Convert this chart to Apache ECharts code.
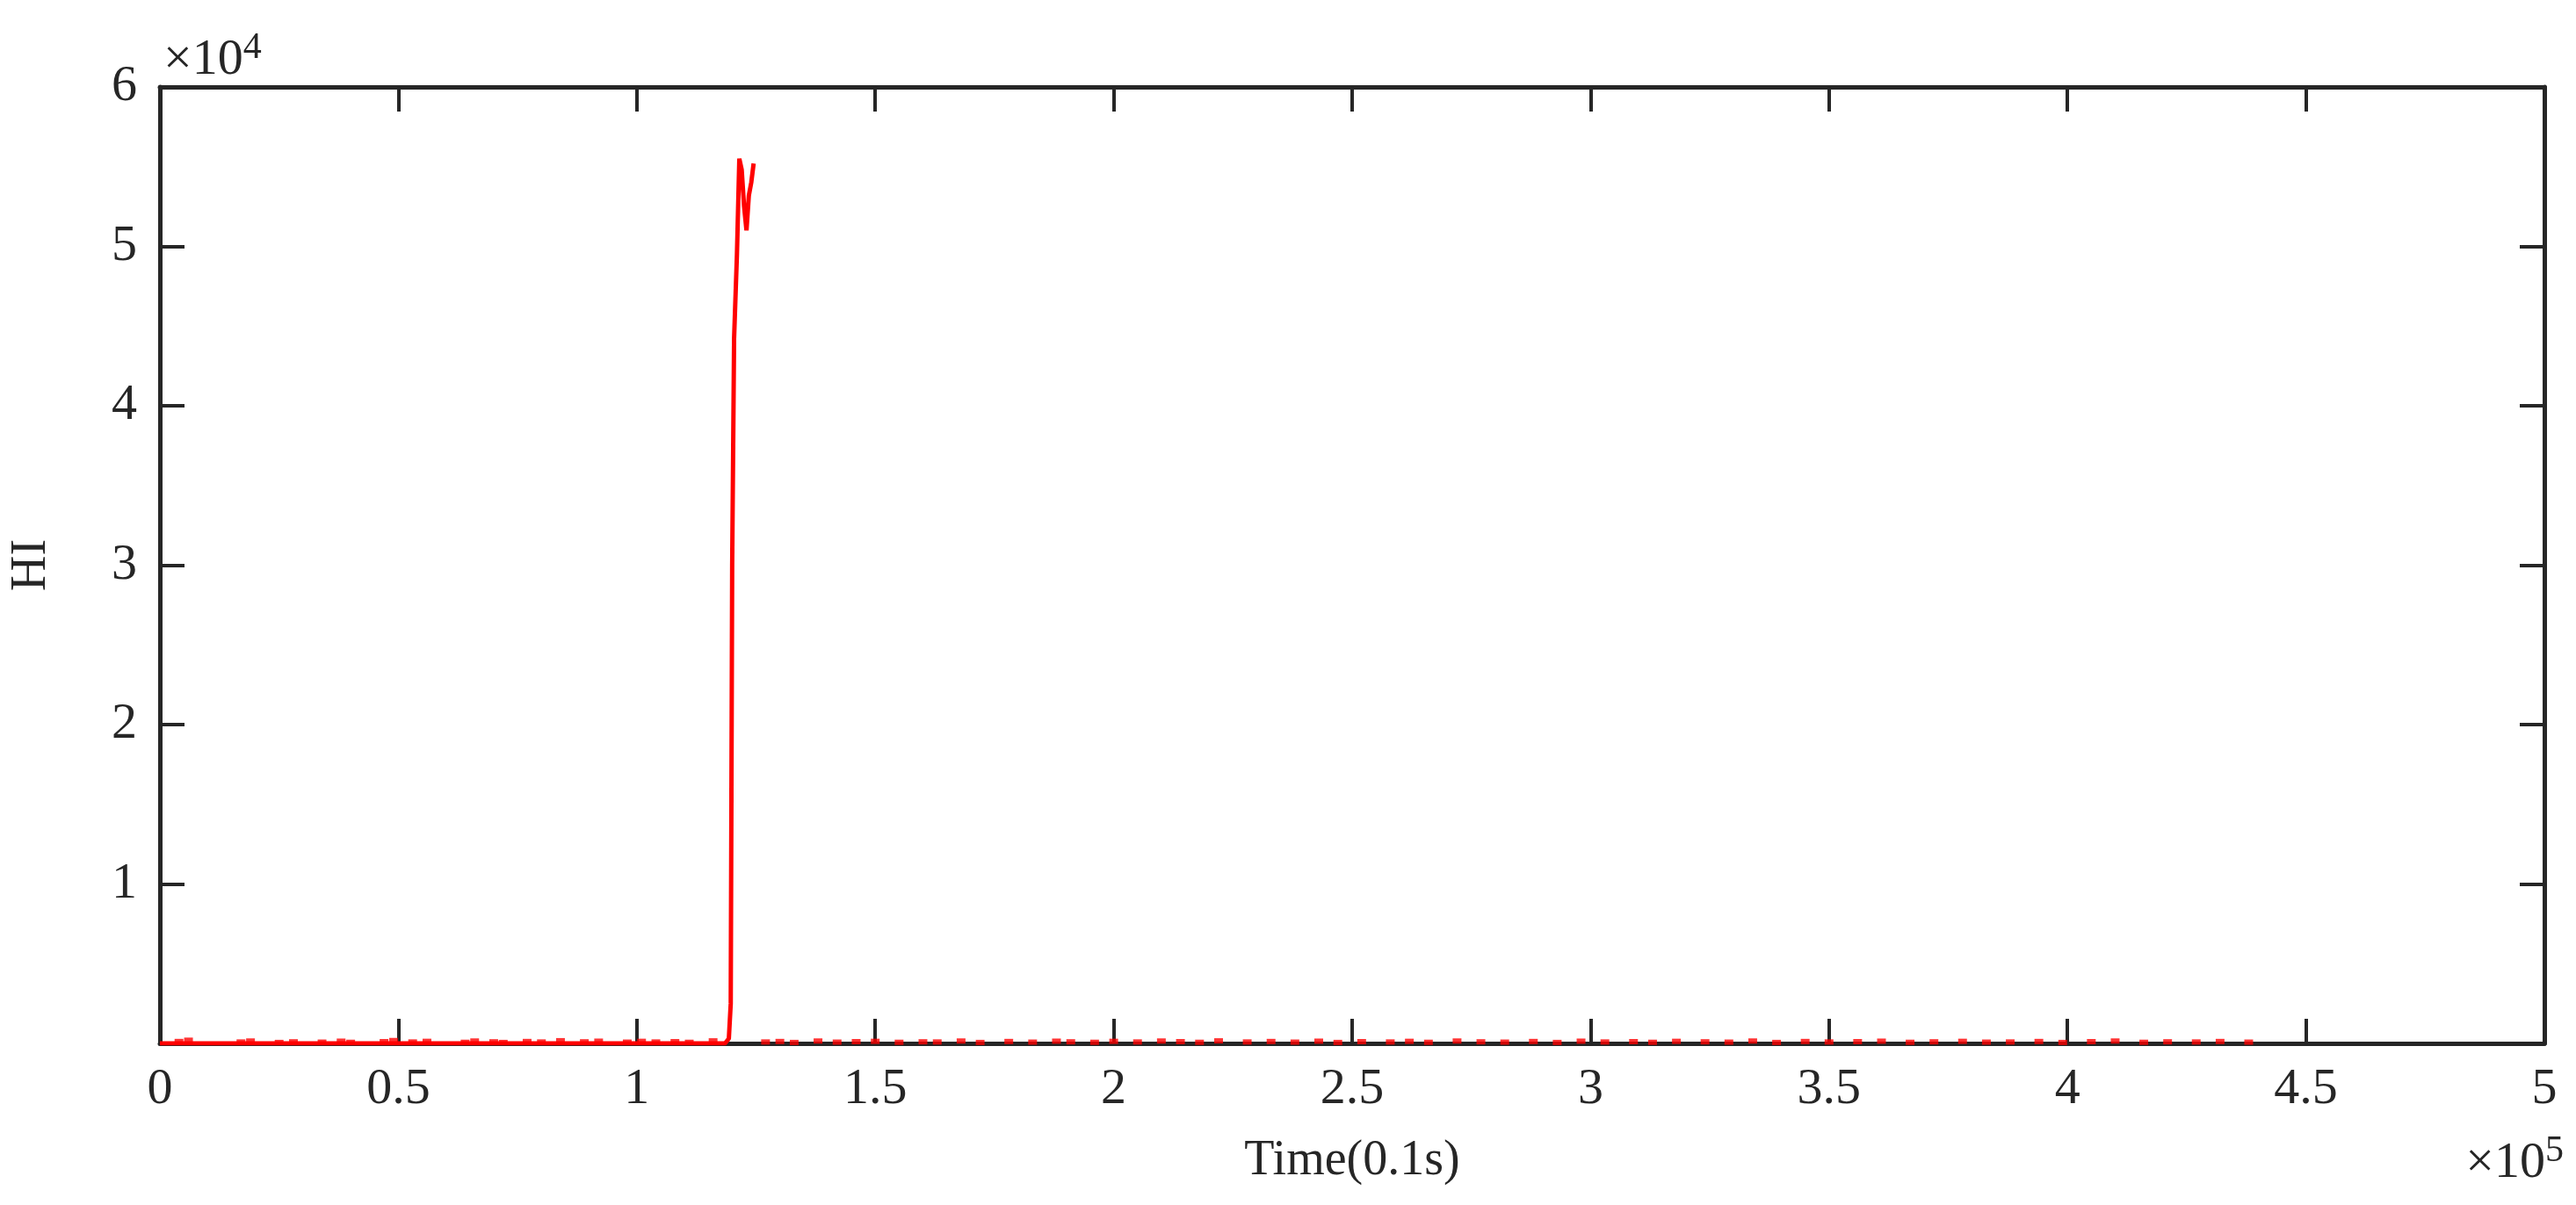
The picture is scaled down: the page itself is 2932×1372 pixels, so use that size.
<!DOCTYPE html>
<html>
<head>
<meta charset="utf-8">
<script src="https://cdn.jsdelivr.net/npm/echarts@6/dist/echarts.min.js"></script>
<style>html,body{margin:0;padding:0;background:#fff}#main{width:2932px;height:1372px}</style>
</head>
<body>
<div id="main"></div>
<script>
// HI curve around the failure (x in 0.1s, y HI)
var spikeX = [0, 20000, 50000, 80000, 100000, 118500, 119300, 119700, 120000, 120400, 121000, 121500, 122000, 122500, 123000, 123500, 124000, 124500];
var spikeY = [0, 0, 0, 0, 0, 0, 300, 2500, 30000, 44200, 49500, 55500, 54800, 52500, 51000, 53200, 54000, 55200];
// small red marks along the baseline
var noiseX = [4000, 6000, 17000, 19000, 25000, 28000, 34000, 38000, 40000, 47000, 49000, 53000, 56000, 64000, 66000, 70000, 72000, 77000, 80000, 84000, 89000, 92000, 98000, 101000, 104000, 108000, 111000, 116000, 127000, 130000, 133000, 138000, 142000, 146000, 150000, 155000, 160000, 163000, 168000, 172000, 178000, 183000, 188000, 191000, 196000, 200000, 205000, 210000, 214000, 218000, 222000, 228000, 233000, 238000, 243000, 247000, 252000, 258000, 262000, 266000, 272000, 277000, 282000, 288000, 293000, 298000, 303000, 309000, 313000, 318000, 324000, 329000, 334000, 339000, 345000, 350000, 356000, 361000, 367000, 372000, 378000, 383000, 388000, 394000, 399000, 405000, 410000, 416000, 421000, 427000, 432000, 438000];
var noiseY = [120, 200, 90, 150, 60, 100, 80, 140, 70, 110, 180, 90, 130, 70, 150, 100, 60, 120, 90, 170, 100, 140, 80, 130, 90, 110, 70, 160, 90, 120, 60, 150, 80, 110, 130, 70, 100, 90, 150, 60, 120, 80, 140, 100, 70, 130, 90, 150, 110, 70, 160, 90, 120, 80, 140, 60, 110, 90, 130, 70, 150, 100, 80, 120, 60, 140, 90, 110, 70, 130, 100, 80, 150, 60, 120, 90, 110, 140, 70, 100, 130, 80, 90, 120, 60, 110, 150, 70, 100, 90, 120, 80];
var xTicks = [0, 0.5, 1, 1.5, 2, 2.5, 3, 3.5, 4, 4.5, 5];
var yTicks = [1, 2, 3, 4, 5, 6];

var line = [];
for (var i = 0; i < spikeX.length; i++) line.push([spikeX[i], spikeY[i]]);
var dots = [];
for (var j = 0; j < noiseX.length; j++) dots.push([noiseX[j], noiseY[j]]);

var font = 'Liberation Serif';
var axisCol = '#262626';
var tick = {show: true, inside: true, length: 28, lineStyle: {color: axisCol, width: 4}};
var aLine = {show: true, onZero: false, lineStyle: {color: axisCol, width: 5}};
var myChart = echarts.init(document.getElementById('main'));
var option = {
    animation: false,
    backgroundColor: '#fff',
    grid: {left: 182, right: 36, top: 99, bottom: 184, containLabel: false},
    xAxis: [
        {
            type: 'value', min: 0, max: 500000, interval: 50000, position: 'bottom',
            axisLine: aLine, axisTick: tick, splitLine: {show: false},
            axisLabel: {fontFamily: font, fontSize: 58, color: axisCol, margin: 24,
                formatter: function (v) { return String(xTicks[Math.round(v / 50000)]); }},
            name: 'Time(0.1s)', nameLocation: 'middle', nameGap: 106,
            nameTextStyle: {fontFamily: font, fontSize: 56, color: axisCol}
        },
        {
            type: 'value', min: 0, max: 500000, interval: 50000, position: 'top',
            axisLine: aLine, axisTick: tick, axisLabel: {show: false}, splitLine: {show: false}
        }
    ],
    yAxis: [
        {
            type: 'value', min: 0, max: 60000, interval: 10000, position: 'left',
            axisLine: aLine, axisTick: tick, splitLine: {show: false},
            axisLabel: {fontFamily: font, fontSize: 58, color: axisCol, margin: 26,
                formatter: function (v) { return v === 0 ? '' : String(yTicks[v / 1e4 - 1]); }},
            name: 'HI', nameLocation: 'middle', nameGap: 118,
            nameTextStyle: {fontFamily: font, fontSize: 56, color: axisCol}
        },
        {
            type: 'value', min: 0, max: 60000, interval: 10000, position: 'right',
            axisLine: aLine, axisTick: tick, axisLabel: {show: false}, splitLine: {show: false}
        }
    ],
    graphic: [
        {type: 'text', left: 186, top: 34, style: {
            text: '×10{s|4}', fontFamily: font, fontSize: 58, fill: axisCol,
            rich: {s: {fontFamily: font, fontSize: 42, verticalAlign: 'top', padding: [0, 0, 28, 0]}}}},
        {type: 'text', right: 14, top: 1290, style: {
            text: '×10{s|5}', fontFamily: font, fontSize: 58, fill: axisCol,
            rich: {s: {fontFamily: font, fontSize: 42, verticalAlign: 'top', padding: [0, 0, 28, 0]}}}}
    ],
    series: [
        {
            type: 'scatter', data: dots, symbol: 'rect', symbolSize: [10, 6],
            itemStyle: {color: '#ff0000'}, z: 3
        },
        {
            type: 'line', data: line, showSymbol: false, smooth: false,
            lineStyle: {color: '#ff0000', width: 5}, z: 4
        }
    ]
};
myChart.setOption(option);
</script>
</body>
</html>
